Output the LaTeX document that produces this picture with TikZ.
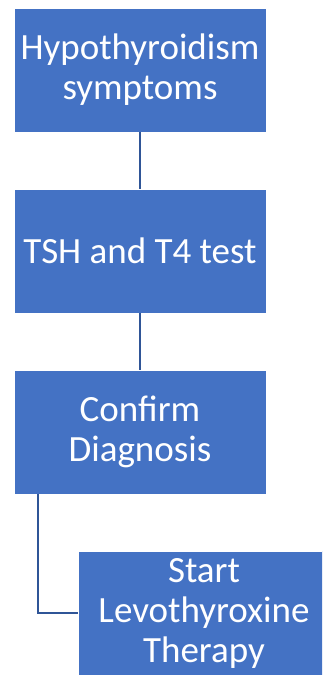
\documentclass[tikz,border=0pt]{standalone}
\usepackage{fontspec}
\setmainfont{Carlito}
\usepackage{tikz}
\usetikzlibrary{positioning}
\definecolor{boxblue}{HTML}{4472C4}
\definecolor{lineblue}{HTML}{2F5597}

\begin{document}
\begin{tikzpicture}[x=1pt,y=1pt]%
\clip (0,0) rectangle (322,-676);
\useasboundingbox (0,0) rectangle (322,-676);
\begin{scope}[fill=boxblue,text=white]%
\tikzstyle{every node}=[draw=white,line width=.8pt,fill=boxblue,minimum width=252pt,minimum height=124pt,inner sep=0pt,align=center,font=\fontsize{37}{40}\selectfont] %%
\node (symp) at (140,-70)  {Hypothyroidism\\symptoms}; %%
\node (test) at (140,-251)  {TSH and T4 test}; %%
\node (diag) at (140,-432)  {Confirm\\Diagnosis}; %%
\node (ther) at (204,-613)  {Start\\Levothyroxine\\Therapy}; %%
\end{scope}
\begin{scope}[draw=lineblue,line width=2pt]%
\draw (symp.south)--(test.north); %%
\draw (test.south)--(diag.north); %%
\draw ([xshift=24pt]diag.south west) |- (ther.west); %%
\end{scope}
\end{tikzpicture}
\end{document}
